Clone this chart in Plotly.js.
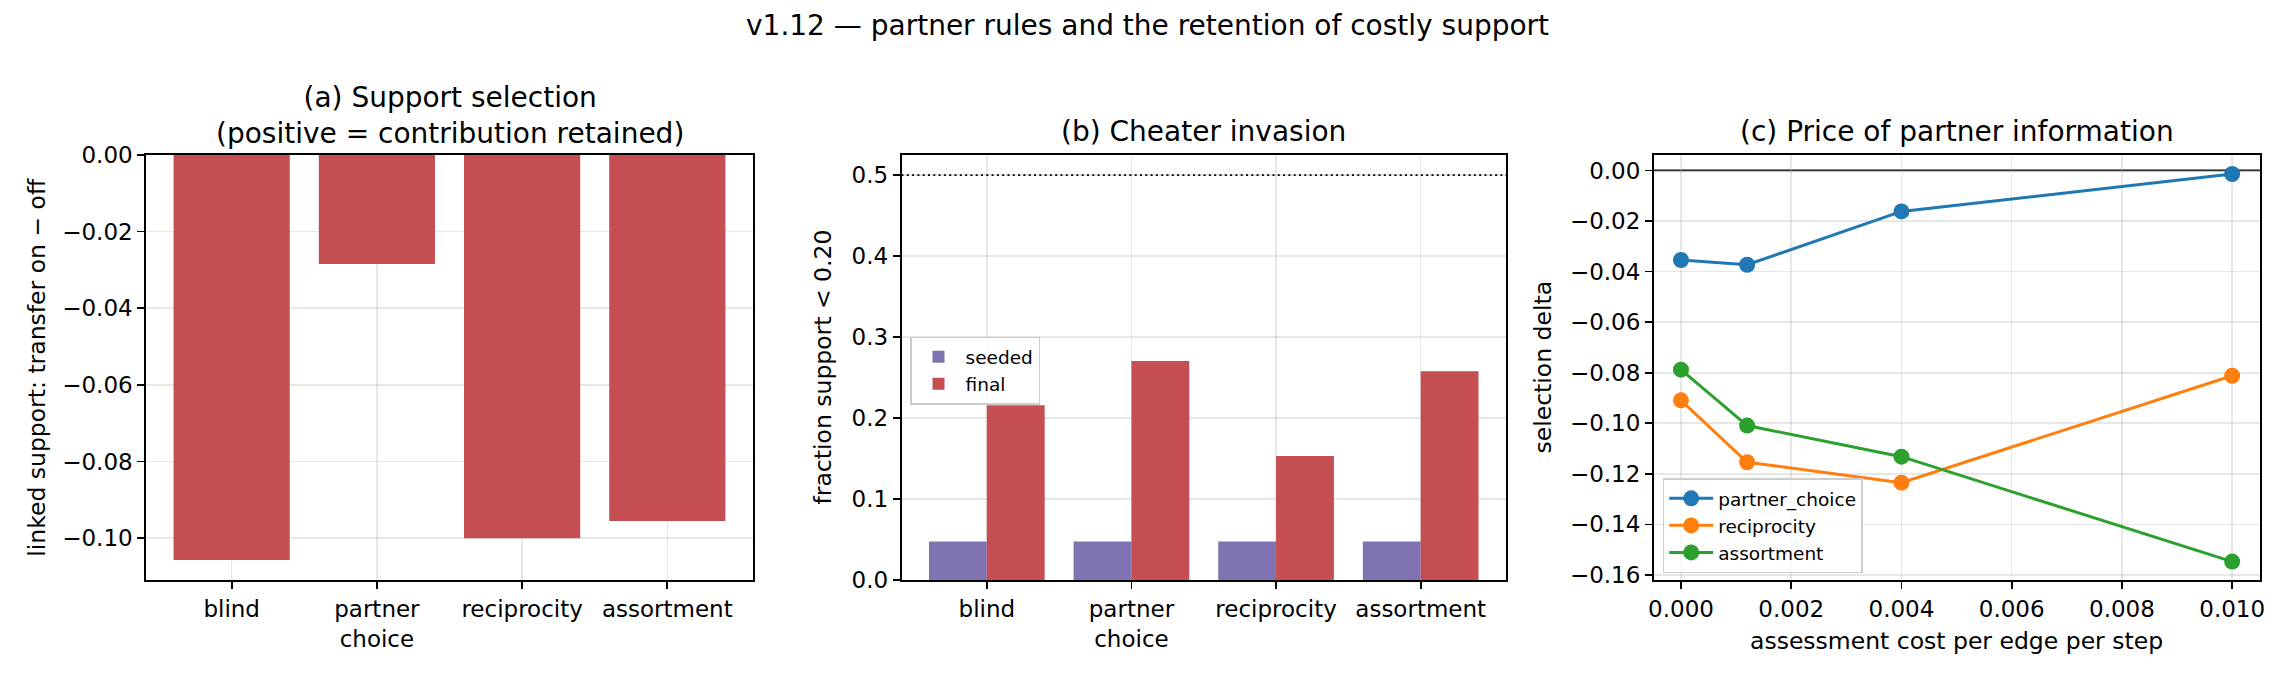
<!DOCTYPE html>
<html>
<head>
<meta charset="utf-8">
<script src="https://cdn.plot.ly/plotly-3.0.1.min.js"></script>
<style>
  html, body { margin: 0; padding: 0; background: #ffffff; }
  #chart { width: 2295px; height: 680px; }
</style>
</head>
<body>
<div id="chart"></div>
<script>
const W = 2295, H = 680;

// (a) support selection per partner rule
const rules = ['blind', 'partner<br>choice', 'reciprocity', 'assortment'];
const selectionDelta = [-0.1057, -0.0285, -0.1000, -0.0955];

// (b) cheater invasion: fraction of agents with support below 0.20
const seededFraction = [0.048, 0.048, 0.048, 0.048];
const finalFraction = [0.216, 0.2705, 0.1535, 0.258];
const invasionThreshold = 0.5;

// (c) price of partner information
const assessmentCost = [0, 0.0012, 0.004, 0.01];
const partnerChoiceDelta = [-0.0354, -0.0373, -0.0162, -0.0014];
const reciprocityDelta = [-0.0909, -0.1154, -0.1235, -0.0812];
const assortmentDelta = [-0.0788, -0.1009, -0.1132, -0.1547];

const FONT = 'DejaVu Sans, Liberation Sans, sans-serif';
const RED = '#c44e52', PURPLE = '#8172b2';
const BLUE = '#1f77b4', ORANGE = '#ff7f0e', GREEN = '#2ca02c';

const TITLE_SIZE = 28, LABEL_SIZE = 23.5, TICK_SIZE = 23, LEGEND_SIZE = 18.5;

// pixel helpers -> paper fractions
const px = v => v / W;
const py = v => 1 - v / H;

const yDom = [py(580.3), py(154.8)];
const domA = [px(146), px(753)];
const domB = [px(901.5), px(1506)];
const domC = [px(1653.7), px(2260)];

const traces = [
  {
    type: 'bar', x: rules, y: selectionDelta, xaxis: 'x', yaxis: 'y',
    marker: { color: RED }, showlegend: false
  },
  {
    type: 'bar', name: 'seeded', x: rules, y: seededFraction, xaxis: 'x2', yaxis: 'y2',
    marker: { color: PURPLE }, legend: 'legend'
  },
  {
    type: 'bar', name: 'final', x: rules, y: finalFraction, xaxis: 'x2', yaxis: 'y2',
    marker: { color: RED }, legend: 'legend'
  },
  {
    type: 'scatter', mode: 'lines+markers', name: 'partner_choice',
    x: assessmentCost, y: partnerChoiceDelta, xaxis: 'x3', yaxis: 'y3',
    line: { color: BLUE, width: 3 }, marker: { color: BLUE, size: 16 }, legend: 'legend2'
  },
  {
    type: 'scatter', mode: 'lines+markers', name: 'reciprocity',
    x: assessmentCost, y: reciprocityDelta, xaxis: 'x3', yaxis: 'y3',
    line: { color: ORANGE, width: 3 }, marker: { color: ORANGE, size: 16 }, legend: 'legend2'
  },
  {
    type: 'scatter', mode: 'lines+markers', name: 'assortment',
    x: assessmentCost, y: assortmentDelta, xaxis: 'x3', yaxis: 'y3',
    line: { color: GREEN, width: 3 }, marker: { color: GREEN, size: 16 }, legend: 'legend2'
  }
];

function axisStyle(extra) {
  return Object.assign({
    showline: true, linecolor: '#000000', linewidth: 1.7, mirror: true,
    ticks: 'outside', ticklen: 7, tickwidth: 1.7, tickcolor: '#000000',
    showgrid: true, gridcolor: 'rgba(176,176,176,0.3)', gridwidth: 1.6,
    zeroline: false,
    tickfont: { family: FONT, size: TICK_SIZE, color: '#000000' }
  }, extra);
}

function legendAt(x, y) {
  return {
    x: px(x), y: py(y), xanchor: 'left', yanchor: 'top', itemwidth: 44,
    bgcolor: 'rgba(255,255,255,0.8)', bordercolor: '#cccccc', borderwidth: 1.5,
    font: { family: FONT, size: LEGEND_SIZE, color: '#000000' }
  };
}

function label(text, x, y, size, angle) {
  return {
    text: text, xref: 'paper', yref: 'paper', x: px(x), y: py(y),
    xanchor: 'center', yanchor: 'middle', showarrow: false,
    textangle: angle || 0,
    font: { family: FONT, size: size, color: '#000000' }
  };
}

const layout = {
  width: W, height: H,
  margin: { l: 0, r: 0, t: 0, b: 0, pad: 0 },
  paper_bgcolor: '#ffffff', plot_bgcolor: '#ffffff',
  font: { family: FONT, color: '#000000' },
  barmode: 'group', bargap: 0.2, bargroupgap: 0,

  xaxis: axisStyle({ domain: domA, anchor: 'y', type: 'category', range: [-0.59, 3.59], layer: 'above traces' }),
  yaxis: axisStyle({ domain: yDom, anchor: 'x', range: [-0.111, 0], tick0: 0, dtick: 0.02,
    tickformat: '.2f', layer: 'above traces' }),
  xaxis2: axisStyle({ domain: domB, anchor: 'y2', type: 'category', range: [-0.59, 3.59], layer: 'above traces' }),
  yaxis2: axisStyle({ domain: yDom, anchor: 'x2', range: [0, 0.525], tick0: 0, dtick: 0.1,
    tickformat: '.1f', layer: 'above traces' }),
  xaxis3: axisStyle({ domain: domC, anchor: 'y3', range: [-0.000495, 0.010505], tick0: 0, dtick: 0.002,
    tickformat: '.3f' }),
  yaxis3: axisStyle({ domain: yDom, anchor: 'x3', range: [-0.1621, 0.0062], tick0: 0, dtick: 0.02,
    tickformat: '.2f' }),

  legend: legendAt(910, 336.7),
  legend2: legendAt(1662.7, 478.3),

  shapes: [
    {
      type: 'line', xref: 'x2 domain', yref: 'y2', x0: 0, x1: 1,
      y0: invasionThreshold, y1: invasionThreshold, layer: 'above',
      line: { color: '#000000', width: 1.7, dash: '2px,3.3px' }
    },
    {
      type: 'line', xref: 'x3 domain', yref: 'y3', x0: 0, x1: 1,
      y0: 0, y1: 0, layer: 'below',
      line: { color: '#000000', width: 1.7 }
    }
  ],

  annotations: [
    label('v1.12 — partner rules and the retention of costly support', W / 2, 26, TITLE_SIZE),
    label('(a) Support selection<br>(positive = contribution retained)', 449.5, 115, TITLE_SIZE),
    label('(b) Cheater invasion', 1203.75, 131.5, TITLE_SIZE),
    label('(c) Price of partner information', 1956.85, 131.5, TITLE_SIZE),
    label('linked support: transfer on − off', 36.3, 367.5, LABEL_SIZE, -90),
    label('fraction support &lt; 0.20', 822, 367.5, LABEL_SIZE, -90),
    label('selection delta', 1542, 367.5, LABEL_SIZE, -90),
    label('assessment cost per edge per step', 1956.85, 641, LABEL_SIZE)
  ]
};

Plotly.newPlot('chart', traces, layout, { staticPlot: true });
</script>
</body>
</html>
